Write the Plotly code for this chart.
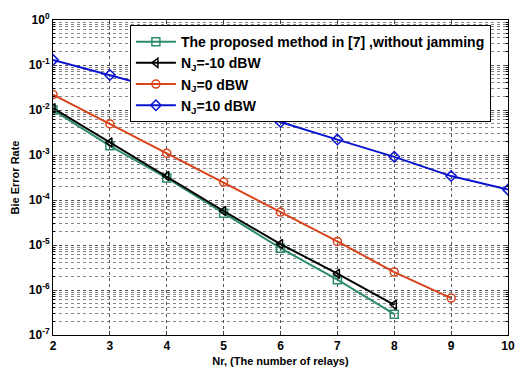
import plotly.graph_objects as go

x_green = [2, 3, 4, 5, 6, 7, 8]
y_green = [1.0e-2, 1.6e-3, 3.1e-4, 5.1e-5, 8.5e-6, 1.7e-6, 2.9e-7]
x_black = [2, 3, 4, 5, 6, 7, 8]
y_black = [1.1e-2, 1.9e-3, 3.4e-4, 5.7e-5, 1.05e-5, 2.3e-6, 4.7e-7]
x_red = [2, 3, 4, 5, 6, 7, 8, 9]
y_red = [2.2e-2, 4.9e-3, 1.1e-3, 2.5e-4, 5.4e-5, 1.2e-5, 2.5e-6, 6.6e-7]
x_blue = [2, 3, 4, 5, 6, 7, 8, 9, 10]
y_blue = [1.3e-1, 6.0e-2, 2.7e-2, 1.2e-2, 5.4e-3, 2.2e-3, 9.1e-4, 3.4e-4, 1.7e-4]

names = ["The proposed method in [7] ,without jamming", "N<sub>J</sub>=-10 dBW",
         "N<sub>J</sub>=0 dBW", "N<sub>J</sub>=10 dBW"]
colors = ["#2e8b6e", "#000000", "#d9441c", "#0a14d0"]
symbols = ["square-open", "triangle-left-open", "circle-open", "diamond-open"]

ytickvals = [1e0, 1e-1, 1e-2, 1e-3, 1e-4, 1e-5, 1e-6, 1e-7]
yticktext = ["10<sup>0</sup>", "10<sup>-1</sup>", "10<sup>-2</sup>", "10<sup>-3</sup>",
             "10<sup>-4</sup>", "10<sup>-5</sup>", "10<sup>-6</sup>", "10<sup>-7</sup>"]
xtickvals = [2, 3, 4, 5, 6, 7, 8, 9, 10]

fig = go.Figure()
for xs, ys, n, c, s in zip([x_green, x_black, x_red, x_blue],
                           [y_green, y_black, y_red, y_blue], names, colors, symbols):
    fig.add_trace(go.Scatter(x=xs, y=ys, name=n, mode="lines+markers",
                             line=dict(color=c, width=2),
                             marker=dict(symbol=s, size=8, color=c, line=dict(color=c, width=1.5))))

fam = "Liberation Sans, Arial"
fig.update_layout(
    width=515, height=368,
    margin=dict(l=53, r=7, t=20, b=33),
    plot_bgcolor="white", paper_bgcolor="white",
    font=dict(family=fam, size=12, color="black"),
    legend=dict(x=0.169, y=0.984, xanchor="left", yanchor="top",
                bgcolor="white", bordercolor="black", borderwidth=1,
                font=dict(family=fam, size=14, color="black", weight="bold"),
                tracegroupgap=0, itemwidth=40),
    xaxis=dict(range=[2, 10], tickvals=xtickvals, showline=True, linecolor="black",
               mirror="ticks", ticks="inside", ticklen=4, showgrid=True, automargin=False,
               gridcolor="#555555", griddash="dot", gridwidth=1, zeroline=False,
               tickfont=dict(family=fam, size=12, color="black", weight="bold"),
               title=dict(text="<b>Nr, (The number of relays)</b>", standoff=4,
                          font=dict(size=11))),
    yaxis=dict(type="log", range=[-7, 0], tickvals=ytickvals, ticktext=yticktext,
               showline=True, linecolor="black", mirror="ticks", ticks="inside", ticklen=4,
               showgrid=True, gridcolor="#555555", griddash="dot", gridwidth=1, automargin=False,
               minor=dict(dtick="D1", showgrid=True, gridcolor="#888888", griddash="dot",
                          ticks="inside", ticklen=2, tickcolor="black"),
               tickfont=dict(family=fam, size=12, color="black", weight="bold"),
               title=dict(text="<b>Bie Error Rate</b>", standoff=6, font=dict(size=11))),
)
fig.write_html("out.html")
